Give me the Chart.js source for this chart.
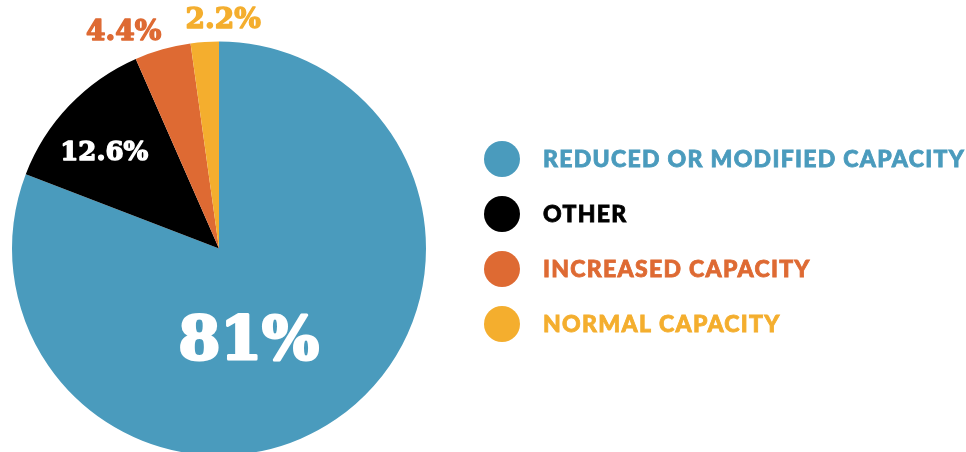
<!DOCTYPE html>
<html>
<head>
<meta charset="utf-8">
<script src="https://cdn.jsdelivr.net/npm/chart.js@4.4.1/dist/chart.umd.min.js"></script>
<style>
  html, body { margin: 0; padding: 0; background: #fff; overflow: hidden; }
  #wrap { position: absolute; left: 0; top: 0; width: 966px; height: 500px; }
</style>
</head>
<body>
<div id="wrap"><canvas id="capacityPie"></canvas></div>
<script>
  // ---------- Data ----------
  const categories = [
    "REDUCED OR MODIFIED CAPACITY",
    "OTHER",
    "INCREASED CAPACITY",
    "NORMAL CAPACITY"
  ];
  const shares = [81, 12.6, 4.4, 2.2];
  const shareLabels = ["81%", "12.6%", "4.4%", "2.2%"];

  // ---------- Styles ----------
  const COLORS = ["#4a9bbd", "#000000", "#de6a33", "#f4ae2e"];
  const LABEL_COLORS = ["#ffffff", "#ffffff", "#de6a33", "#f4ae2e"];
  // [radius factor, angle offset deg, font px, stroke px]
  const LABEL_PLACE = [
    [0.48, 17, 60, 3],
    [0.72, -4, 26, 1.4],
    [1.14, -8, 28, 1.4],
    [1.10, 5, 28, 1.4]
  ];

  // percent labels drawn over / beside each slice
  const sliceLabels = {
    id: "sliceLabels",
    afterDatasetsDraw(chart) {
      const ctx = chart.ctx;
      const arcs = chart.getDatasetMeta(0).data;
      arcs.forEach((arc, i) => {
        const p = arc.getProps(["x", "y", "startAngle", "endAngle", "outerRadius"], true);
        const [f, shift, size, stroke] = LABEL_PLACE[i];
        const a = (p.startAngle + p.endAngle) / 2 + shift * Math.PI / 180;
        const r = p.outerRadius * f;
        const x = p.x + Math.cos(a) * r, y = p.y + Math.sin(a) * r;
        ctx.save();
        ctx.font = `bold ${size}px "DejaVu Serif"`;
        ctx.fillStyle = LABEL_COLORS[i];
        ctx.strokeStyle = LABEL_COLORS[i];
        ctx.lineWidth = stroke;
        ctx.lineJoin = "round";
        ctx.textAlign = "center";
        ctx.textBaseline = "middle";
        ctx.strokeText(shareLabels[i], x, y);
        ctx.fillText(shareLabels[i], x, y);
        ctx.restore();
      });
    }
  };

  // legend on the right, dots + spaced caps
  const sideLegend = {
    id: "sideLegend",
    afterDraw(chart) {
      const ctx = chart.ctx;
      const x0 = 502, y0 = 159, step = 55;
      categories.forEach((name, i) => {
        const y = y0 + i * step;
        ctx.save();
        ctx.fillStyle = COLORS[i];
        ctx.beginPath();
        ctx.arc(x0, y, 18, 0, Math.PI * 2);
        ctx.fill();
        ctx.font = '900 23px "Lato"';
        ctx.letterSpacing = "1.3px";
        ctx.fillStyle = COLORS[i];
        ctx.strokeStyle = COLORS[i];
        ctx.lineWidth = 0.8;
        ctx.textAlign = "left";
        ctx.textBaseline = "middle";
        ctx.strokeText(name, 543, y + 1);
        ctx.fillText(name, 543, y + 1);
        ctx.restore();
      });
    }
  };

  new Chart(document.getElementById("capacityPie").getContext("2d"), {
    type: "pie",
    data: {
      labels: categories,
      datasets: [{
        data: shares,
        backgroundColor: COLORS,
        borderWidth: 0
      }]
    },
    options: {
      responsive: true,
      maintainAspectRatio: false,
      animation: false,
      layout: { padding: { left: 12, top: 41, right: 540, bottom: 44 } },
      plugins: {
        legend: { display: false },
        tooltip: { enabled: false }
      }
    },
    plugins: [sliceLabels, sideLegend]
  });
</script>
</body>
</html>
